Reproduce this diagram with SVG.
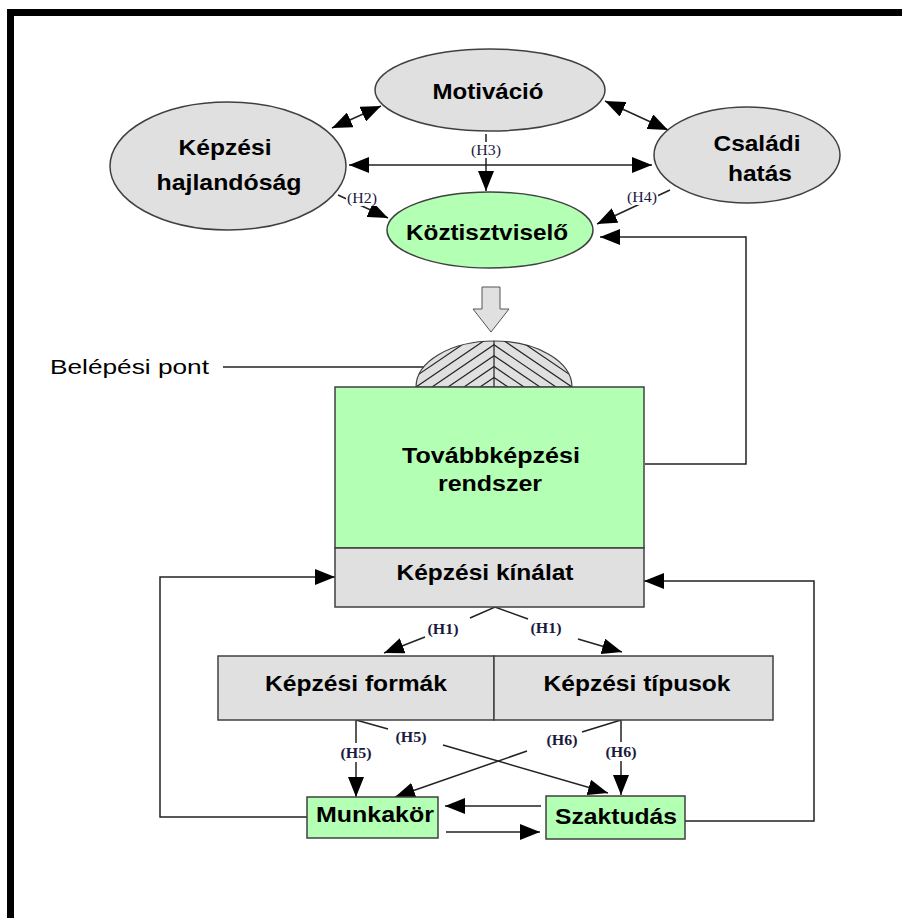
<svg xmlns="http://www.w3.org/2000/svg" width="902" height="918" viewBox="0 0 902 918">
<style>
.t{font-family:"Liberation Sans",Arial,sans-serif;font-weight:bold;font-size:22px;fill:#000;text-anchor:middle}
.h{font-family:"Liberation Serif","Times New Roman",serif;font-size:14px;fill:#1a1a40;text-anchor:middle}
.hb{font-family:"Liberation Serif","Times New Roman",serif;font-size:14px;font-weight:bold;fill:#1a1a40;text-anchor:middle}
.gr{fill:#e0e0e0;stroke:#404040;stroke-width:1.5}
.gn{fill:#b3ffb3;stroke:#404040;stroke-width:1.5}
.c{fill:none;stroke:#222;stroke-width:1.5}
.a{marker-end:url(#ah)}
.b{marker-start:url(#as);marker-end:url(#ah)}
.hl{stroke:#222;stroke-width:1.2}
</style>
<defs>
<marker id="ah" markerUnits="userSpaceOnUse" markerWidth="20" markerHeight="16" refX="20" refY="8" orient="auto"><path d="M0,0 L20,8 L0,16 z" fill="#000"/></marker>
<marker id="as" markerUnits="userSpaceOnUse" markerWidth="20" markerHeight="16" refX="0" refY="8" orient="auto"><path d="M20,0 L0,8 L20,16 z" fill="#000"/></marker>
<clipPath id="dl"><path d="M416,387 A78,46 0 0 1 494,341 V387 z"/></clipPath>
<clipPath id="dr"><path d="M494,341 A78,46 0 0 1 572,387 H494 z"/></clipPath>
</defs>
<rect width="902" height="918" fill="#fff"/>
<path d="M10.5,918 V12.5 H902" fill="none" stroke="#000" stroke-width="7"/>

<g id="connectors">
<line class="c b" x1="332" y1="128" x2="381" y2="106"/>
<line class="c b" x1="605" y1="101" x2="668" y2="130"/>
<line class="c b" x1="349" y1="165" x2="652" y2="165"/>
<line class="c a" x1="486" y1="134" x2="486" y2="191"/>
<line class="c a" x1="338" y1="195" x2="388" y2="218"/>
<line class="c a" x1="670" y1="190" x2="597" y2="224"/>
<polyline class="c a" points="645,464 746,464 746,237 600,237"/>
<line class="c" x1="223" y1="367" x2="424" y2="367"/>
<path d="M482,287 H500 V309 H509 L491,332 L473,309 H482 z" fill="#e0e0e0" stroke="#555" stroke-width="1"/>
<polyline class="c" points="470,618 495,607 528,619"/>
<line class="c a" x1="425" y1="637" x2="384" y2="653"/>
<line class="c a" x1="578" y1="639" x2="622" y2="652"/>
<polyline class="c a" points="307,817 160,817 160,577 335,577"/>
<polyline class="c a" points="685,821 814,821 814,581 644,581"/>
<line class="c a" x1="356" y1="720" x2="356" y2="797"/>
<line class="c a" x1="621" y1="720" x2="621" y2="795"/>
<line class="c" x1="356" y1="720" x2="388" y2="729"/>
<line class="c a" x1="443" y1="745" x2="608" y2="793"/>
<line class="c" x1="621" y1="720" x2="582" y2="732"/>
<line class="c a" x1="527" y1="751" x2="395" y2="797"/>
<line class="c a" x1="541" y1="806" x2="445" y2="806"/>
<line class="c a" x1="446" y1="832" x2="540" y2="832"/>
</g>

<g id="labels">
<rect x="470" y="142" width="32" height="16" fill="#fff"/>
<text class="h" x="486" y="155" textLength="30" lengthAdjust="spacingAndGlyphs">(H3)</text>
<rect x="346" y="190" width="32" height="16" fill="#fff"/>
<text class="h" x="362" y="203" textLength="30" lengthAdjust="spacingAndGlyphs">(H2)</text>
<rect x="626" y="189" width="32" height="16" fill="#fff"/>
<text class="h" x="642" y="202" textLength="30" lengthAdjust="spacingAndGlyphs">(H4)</text>
<text class="hb" x="443" y="634" textLength="31" lengthAdjust="spacingAndGlyphs">(H1)</text>
<text class="hb" x="546" y="633" textLength="31" lengthAdjust="spacingAndGlyphs">(H1)</text>
<rect x="338" y="743" width="36" height="19" fill="#fff"/>
<text class="hb" x="356" y="758" textLength="31" lengthAdjust="spacingAndGlyphs">(H5)</text>
<text class="hb" x="411" y="742" textLength="31" lengthAdjust="spacingAndGlyphs">(H5)</text>
<text class="hb" x="562" y="745" textLength="31" lengthAdjust="spacingAndGlyphs">(H6)</text>
<rect x="603" y="742" width="36" height="19" fill="#fff"/>
<text class="hb" x="621" y="757" textLength="31" lengthAdjust="spacingAndGlyphs">(H6)</text>
<text x="50" y="374" textLength="159" lengthAdjust="spacingAndGlyphs" style="font-family:'Liberation Sans',Arial,sans-serif;font-size:21px;fill:#000">Belépési pont</text>
</g>

<g id="motivacio">
<ellipse class="gr" cx="490" cy="90" rx="115" ry="41"/>
<text class="t" x="488" y="99" textLength="111" lengthAdjust="spacingAndGlyphs">Motiváció</text>
</g>
<g id="hajlandosag">
<ellipse class="gr" cx="228" cy="166" rx="118" ry="64"/>
<text class="t" x="225" y="155" textLength="93" lengthAdjust="spacingAndGlyphs">Képzési</text>
<text class="t" x="229" y="190" textLength="145" lengthAdjust="spacingAndGlyphs">hajlandóság</text>
</g>
<g id="csaladi">
<ellipse class="gr" cx="747" cy="155" rx="93" ry="48"/>
<text class="t" x="757" y="151" textLength="87" lengthAdjust="spacingAndGlyphs">Családi</text>
<text class="t" x="760" y="181" textLength="64" lengthAdjust="spacingAndGlyphs">hatás</text>
</g>
<g id="koztisztviselo">
<ellipse class="gn" cx="490" cy="230" rx="103" ry="38"/>
<text class="t" x="487" y="240" textLength="162" lengthAdjust="spacingAndGlyphs">Köztisztviselő</text>
</g>
<g id="belepesi">
<path d="M416,387 A78,46 0 0 1 572,387 z" fill="#e0e0e0" stroke="#404040" stroke-width="1.2"/>
<g clip-path="url(#dl)">
<line class="hl" x1="480" y1="387" x2="580" y2="319"/>
<line class="hl" x1="464" y1="387" x2="564" y2="319"/>
<line class="hl" x1="448" y1="387" x2="548" y2="319"/>
<line class="hl" x1="432" y1="387" x2="532" y2="319"/>
<line class="hl" x1="416" y1="387" x2="516" y2="319"/>
<line class="hl" x1="400" y1="387" x2="500" y2="319"/>
</g>
<g clip-path="url(#dr)">
<line class="hl" x1="508" y1="387" x2="408" y2="319"/>
<line class="hl" x1="524" y1="387" x2="424" y2="319"/>
<line class="hl" x1="540" y1="387" x2="440" y2="319"/>
<line class="hl" x1="556" y1="387" x2="456" y2="319"/>
<line class="hl" x1="572" y1="387" x2="472" y2="319"/>
<line class="hl" x1="588" y1="387" x2="488" y2="319"/>
</g>
<line class="hl" x1="494" y1="341" x2="494" y2="387"/>
</g>
<g id="tovabbkepzesi">
<rect class="gn" x="335" y="387" width="309" height="161"/>
<text class="t" x="491" y="463" textLength="178" lengthAdjust="spacingAndGlyphs">Továbbképzési</text>
<text class="t" x="490" y="491" textLength="104" lengthAdjust="spacingAndGlyphs">rendszer</text>
</g>
<g id="kinalat">
<rect class="gr" x="335" y="548" width="309" height="59"/>
<text class="t" x="485" y="580" textLength="177" lengthAdjust="spacingAndGlyphs">Képzési kínálat</text>
</g>
<g id="formak">
<rect class="gr" x="218" y="656" width="276" height="64"/>
<text class="t" x="356" y="691" textLength="182" lengthAdjust="spacingAndGlyphs">Képzési formák</text>
</g>
<g id="tipusok">
<rect class="gr" x="494" y="656" width="279" height="64"/>
<text class="t" x="637" y="691" textLength="187" lengthAdjust="spacingAndGlyphs">Képzési típusok</text>
</g>
<g id="munkakor">
<rect class="gn" x="307" y="797" width="131" height="41"/>
<text class="t" x="375" y="822" textLength="118" lengthAdjust="spacingAndGlyphs">Munkakör</text>
</g>
<g id="szaktudas">
<rect class="gn" x="546" y="796" width="139" height="43"/>
<text class="t" x="616" y="824" textLength="122" lengthAdjust="spacingAndGlyphs">Szaktudás</text>
</g>
</svg>
